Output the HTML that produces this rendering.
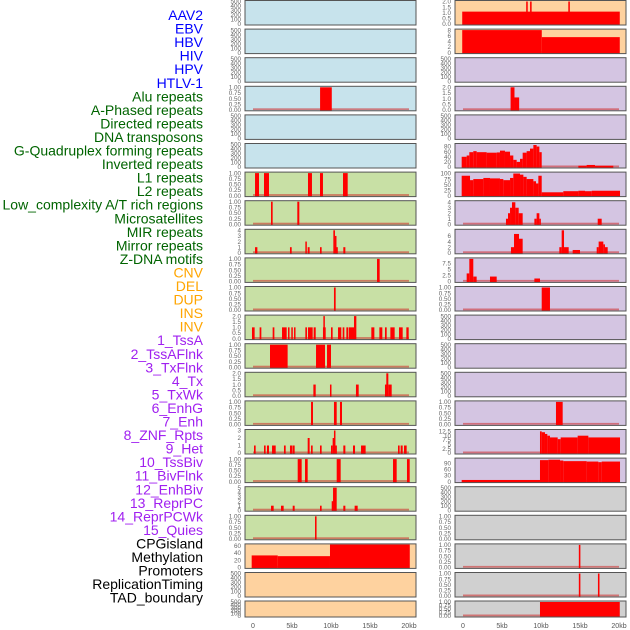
<!DOCTYPE html>
<html><head><meta charset="utf-8"><style>
body{margin:0;background:#fff;width:630px;height:630px;overflow:hidden;font-family:"Liberation Sans",sans-serif}
svg{display:block}
</style></head><body>
<svg id="chart" width="630" height="630" viewBox="0 0 630 630" xmlns="http://www.w3.org/2000/svg"></svg>
<script>
const labels=["AAV2","EBV","HBV","HIV","HPV","HTLV-1","Alu repeats","A-Phased repeats","Directed repeats","DNA transposons","G-Quadruplex forming repeats","Inverted repeats","L1 repeats","L2 repeats","Low_complexity A/T rich regions","Microsatellites","MIR repeats","Mirror repeats","Z-DNA motifs","CNV","DEL","DUP","INS","INV","1_TssA","2_TssAFlnk","3_TxFlnk","4_Tx","5_TxWk","6_EnhG","7_Enh","8_ZNF_Rpts","9_Het","10_TssBiv","11_BivFlnk","12_EnhBiv","13_ReprPC","14_ReprPCWk","15_Quies","CPGisland","Methylation","Promoters","ReplicationTiming","TAD_boundary"];
const labelGroupSizes=[6,13,5,15,5];
const labelGroupColors=["#0000ff","#006400","#ffa500","#a020f0","#000000"];
const B="#c7e3ec",G="#c8e0a5",O="#fed29f",P="#d4c5e2",Y="#d0d0d0";
const leftBg=[B,B,B,B,B,B,G,G,G,G,G,G,G,G,G,G,G,G,G,O,O,O];
const rightBg=[O,O,P,P,P,P,P,P,P,P,P,P,P,P,P,P,P,Y,Y,Y,Y,Y];
const E=[0,100,200,300,400,500];
const U=[0,0.25,0.5,0.75,1.0];
const leftTicks=[E,E,E,U,E,E,U,U,[0,1,2,3,4],U,U,[0,0.5,1,1.5,2],U,[0,0.5,1,1.5,2],U,[0,1,2,3],U,[0,1,2,3,4,5],U,[0,20,40,60],E,E];
const leftMax=[500,500,500,1,500,500,1,1,4,1,1,2,1,2,1,3,1,5,1,62,500,500];
const rightTicks=[[0,0.5,1,1.5,2],[0,2,4,6,8],E,[0,0.5,1,1.5,2],E,[0,20,40,60,80],[0,25,50,75,100],[0,1,2,3,4],[0,2,4,6],[0,2.5,5,7.5],U,E,E,E,U,[0,2.5,5,7.5,10,12.5],[0,30,60,90],E,U,U,U,U];
const rightMax=[2,8,500,2,500,88,102,4.1,8,9.3,1,500,500,500,1,13,110,500,1,1,1,1];
const leftSegs=[[],[],[],[[8.6,10.1,1]],[],[],
[[0.26,0.77,1],[1.41,2.05,1],[7.05,7.56,1],[8.59,8.97,1],[11.54,12.14,1]],
[[2.31,2.52,1],[5.68,5.94,1]],
[[0.26,0.56,1],[4.74,4.96,1],[6.71,6.88,2],[7.01,7.26,1],[8.59,8.8,1],[10.3,10.51,4],[10.51,10.68,3],[10.68,10.77,1],[11.58,11.84,1]],
[[15.9,16.24,1]],
[[10.38,10.6,1]],
[[-0.13,0.21,1],[0.85,1.07,1],[2.52,2.74,1],[3.72,4.32,1],[4.49,4.66,1],[4.91,5.09,1],[5.26,5.43,1],[6.71,6.92,1],[7.05,7.65,1],[7.78,8.04,1],[8.97,9.32,1],[9.02,9.19,2],[10.0,10.21,1],[10.9,11.32,1],[11.5,11.71,1],[11.97,12.18,1],[12.26,12.95,1],[12.95,13.25,2],[15.17,15.56,1],[16.2,16.58,1],[16.92,17.14,1],[17.61,18.16,1],[18.72,19.19,1],[19.66,19.96,1]],
[[2.18,4.44,1],[8.08,9.23,1],[9.49,10.0,1]],
[[7.74,8.04,1],[9.87,10.04,1],[13.2,13.55,1],[16.92,17.09,1],[17.09,17.35,2],[17.35,17.78,1]],
[[7.44,7.69,1],[10.38,10.73,1],[11.15,11.41,1]],
[[0.13,0.34,1],[1.41,1.62,1],[1.79,2.05,1],[2.44,2.91,1],[3.97,4.19,1],[4.74,5.04,1],[5.09,5.34,1],[7.01,7.26,2],[7.44,7.65,1],[8.59,8.8,1],[10.0,10.21,1],[10.21,10.38,2],[10.38,10.56,3],[10.56,10.64,1],[11.58,11.84,1],[12.82,13.08,1],[13.85,14.44,1],[18.59,18.8,1],[18.93,19.19,1],[19.36,19.7,1]],
[[5.73,6.24,1],[6.67,7.01,1],[10.73,11.24,1],[17.95,18.42,1],[19.74,20.09,1]],
[[2.31,2.65,1],[3.59,3.93,1],[5.09,5.34,1],[8.59,8.8,1],[10.09,10.26,2],[10.26,10.73,5],[11.58,11.84,1],[13.03,13.42,1]],
[[7.95,8.15,1]],
[[-0.17,3.17,33],[3.17,9.87,31],[9.87,20.1,63]],
[],[]];
const rightSegs=[
[[-0.1,20.1,1.1],[8.1,8.3,2],[8.6,8.8,2],[13.5,13.7,2]],
[[-0.1,10.1,8],[10.1,20.1,5.5]],
[],
[[6.1,6.6,2],[6.6,7.2,1.1]],
[],
[[-0.17,0.47,40],[0.47,0.81,45],[0.81,1.32,58],[1.32,1.75,62],[1.75,3.03,58],[3.03,4.32,56],[4.32,4.74,57],[4.74,5.38,64],[5.38,6.03,60],[6.03,6.45,45],[6.45,6.88,28],[6.88,7.31,20],[7.31,7.65,32],[7.65,8.16,56],[8.16,8.59,62],[8.59,9.02,72],[9.02,9.44,86],[9.44,9.79,80],[9.79,10.09,58],[14.79,15.85,5],[15.85,16.92,8],[16.92,19.27,5]],
[[-0.17,0.9,90],[0.9,1.32,70],[1.32,2.61,75],[2.61,3.46,80],[3.46,4.74,78],[4.74,5.17,75],[5.17,6.03,70],[6.03,6.45,80],[6.45,7.31,100],[7.31,7.74,95],[7.74,8.16,85],[8.16,9.02,75],[9.02,9.36,65],[9.36,9.66,55],[9.66,10.09,90],[10.09,12.86,15],[12.86,14.79,20],[14.79,15.64,22],[15.64,16.5,20],[16.5,20.13,22]],
[[5.51,5.77,1],[5.77,6.03,2],[6.03,6.28,3],[6.28,6.71,4],[6.71,7.14,3],[7.14,7.65,2],[9.15,9.44,1],[9.44,9.79,2],[9.79,9.96,1],[17.27,17.78,1]],
[[6.15,6.54,2],[6.54,7.18,6.7],[7.18,7.65,5],[12.35,12.65,2],[12.65,12.95,8],[12.95,13.55,2],[14.06,15.0,1],[17.14,17.39,2],[17.39,17.99,4],[17.99,18.2,3],[18.2,18.55,2]],
[[0.47,0.81,3.3],[0.81,1.32,9.3],[1.32,1.75,2],[3.46,4.32,2],[9.15,9.87,1.2]],
[[10.09,11.15,1]],
[],[],[],
[[11.92,12.78,1]],
[[9.87,10.09,12.5],[10.09,10.51,12],[10.51,10.81,11],[10.81,11.15,10],[11.15,12.14,9],[12.14,12.52,8],[12.52,14.7,9],[14.7,16.07,10],[16.07,20.13,9]],
[[-0.17,9.87,8],[9.87,10.94,105],[10.94,12.44,107],[12.44,12.86,103],[12.86,15.85,100],[15.85,17.35,98],[17.35,17.78,95],[17.78,20.13,98]],
[],[],
[[14.85,15.05,1]],
[[14.85,15.05,1],[17.3,17.5,1]],
[[9.87,20.1,1]]];
const xTicks=[0,5,10,15,20];
const xTickLabels=["0","5kb","10kb","15kb","20kb"];

const NS="http://www.w3.org/2000/svg";
const svg=document.getElementById('chart');
function mk(t,a,p){const e=document.createElementNS(NS,t);for(const k in a)e.setAttribute(k,a[k]);(p||svg).appendChild(e);return e;}
function panelTop(i){return i<21?0.5+28.6*i:601;}
function panelH(i){return i<21?24.5:16;}
function xScale(col,kb){return (col?463:253)+kb*7.8;}

let gi=0,cnt=0;
labels.forEach((l,i)=>{
  while(cnt>=labelGroupSizes[gi]){gi++;cnt=0;}
  cnt++;
  const t=mk('text',{x:203,y:15+i*13.55+5,'text-anchor':'end','font-size':14,fill:labelGroupColors[gi]});
  t.textContent=l;
  
  
});

function drawPanel(col,i){
  const x0=col?455:245,w=171,top=panelTop(i),h=panelH(i),bot=top+h;
  const bg=col?rightBg[i]:leftBg[i],ticks=col?rightTicks[i]:leftTicks[i],ymax=col?rightMax[i]:leftMax[i],segs=col?rightSegs[i]:leftSegs[i];
  const g=mk('g',{});
  
  
  const r=mk('rect',{x:x0,y:top,width:w,height:h,fill:bg},g);
  
  
  const ys=v=>bot-1-(v/ymax)*(h-2);
  ticks.forEach(v=>{
    const t=mk('text',{x:x0-4,y:ys(v)+2.2,'text-anchor':'end','font-size':6.3,fill:'#666'},g);
    t.textContent=String(v);
    if(ymax===1)t.textContent=v.toFixed(2);
    else if(ymax===2)t.textContent=v.toFixed(1);
    
    
  });
  if(segs.length){
    const bl=mk('rect',{x:xScale(col,0),y:bot-2.5,width:xScale(col,20)-xScale(col,0),height:1.8,fill:'rgba(205,40,40,0.55)'},g);
    
    
  }
  segs.forEach(s=>{
    const xa=xScale(col,s[0]),xb=xScale(col,s[1]),y=Math.max(top,ys(s[2]));
    const b=mk('rect',{x:xa,y:y,width:Math.max(1.5,xb-xa),height:bot-y,fill:'#ff0000'},g);
    
    
  });
  const fr=mk('rect',{x:x0,y:top,width:w,height:h,fill:'none',stroke:'#555','stroke-width':1},g);
  
  
}
for(let i=0;i<22;i++){drawPanel(0,i);drawPanel(1,i);}
[0,1].forEach(col=>{
  xTicks.forEach((v,j)=>{
    const t=mk('text',{x:xScale(col,v),y:628,'text-anchor':'middle','font-size':7,fill:'#555'});
    t.textContent=xTickLabels[j];
    
    
  });
});
</script>
</body></html>
